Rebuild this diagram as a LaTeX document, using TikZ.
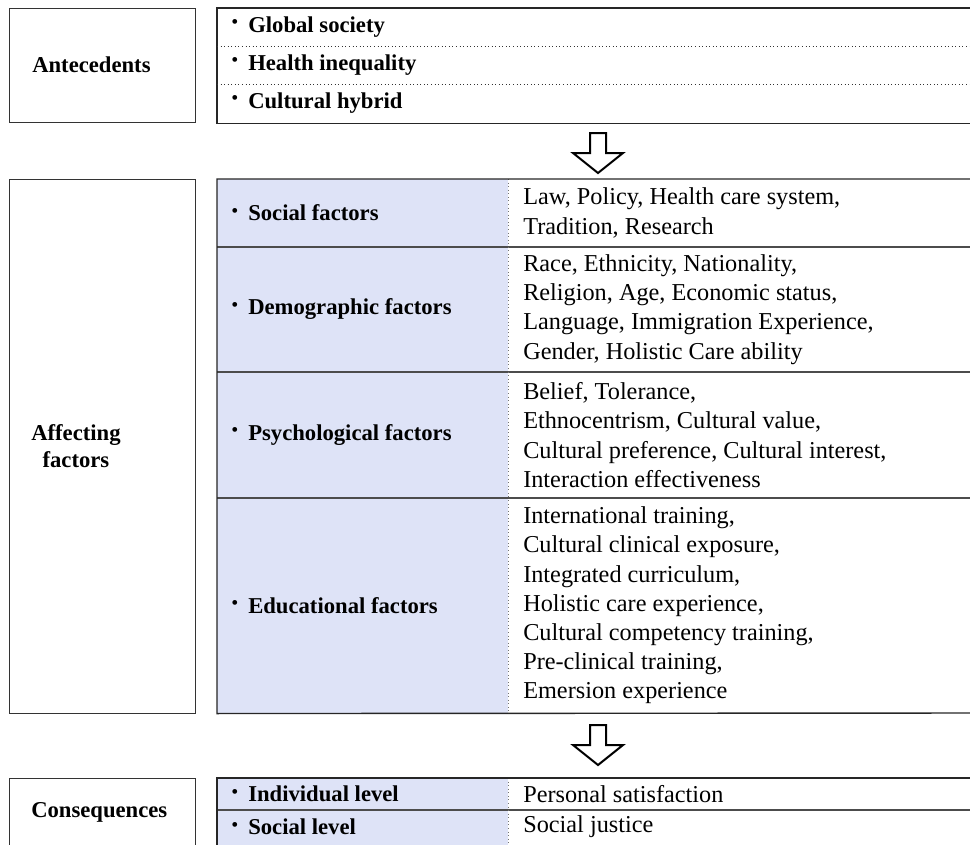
\documentclass[tikz,border=0pt]{standalone}
\usepackage{fontspec}
\setmainfont{Liberation Serif}
\usetikzlibrary{calc}
\newlength\pu \setlength\pu{0.75pt}
\definecolor{cellblue}{RGB}{222,227,247}
\newcommand\bul{\rlap{\hspace{-17\pu}{\normalfont\fontsize{15}{15}\selectfont\raisebox{0.4ex}{\textbullet}}}}
\begin{document}
\begin{tikzpicture}[x=0.75pt,y=-0.75pt,
  frame/.style={draw=black!80, line width=1.3\pu, fill=white, anchor=north west, inner sep=0pt},
  cell/.style={fill=cellblue, draw=none, anchor=north west, inner sep=0pt, minimum width=291\pu},
  lab/.style={font=\fontsize{17}{20}\selectfont\bfseries, align=center, anchor=west, inner sep=0pt},
  item/.style={font=\fontsize{17}{22}\selectfont\bfseries, anchor=west, inner sep=0pt},
  desc/.style={font=\fontsize{18.2}{21.9}\selectfont, align=left, anchor=west, inner sep=0pt},
  solidrule/.style={draw=black!70, line width=1.3\pu},
  edge/.style={draw=black!85, line width=1.4\pu},
  dotrule/.style={draw=black!80, line width=0.9\pu, dotted},
  vdot/.style={draw=black!55, line width=0.9\pu, dotted},
  blockarrow/.style={draw=black, line width=2\pu, fill=white, line join=miter}
]
\useasboundingbox (0,0) rectangle (970,844);

% ---------- Antecedents ----------
\node[frame, minimum width=186\pu, minimum height=114\pu] (antbox) at (9,8) {};
\node[lab] (antlab) at (32,65) {Antecedents};
\node[frame, draw=none, minimum width=760\pu, minimum height=114\pu] (anttab) at (217,8) {};
\draw[edge] (anttab.north east) -- (anttab.north west) -- (anttab.south west) -- (anttab.south east);
\coordinate (a1w) at (217,46); \coordinate (a1e) at (977,46);
\coordinate (a2w) at (217,84); \coordinate (a2e) at (977,84);
\draw[dotrule] (a1w) -- (a1e);
\draw[dotrule] (a2w) -- (a2e);
\node[item] (ant1) at (248,27) {\bul Global society};
\node[item] (ant2) at (248,65) {\bul Health inequality};
\node[item] (ant3) at (248,103) {\bul Cultural hybrid};

% ---------- Arrow 1 ----------
\coordinate (ar1) at (598,133);
\draw[blockarrow] (ar1) ++(-8,0) -- ++(16,0) -- ++(0,20) -- ++(17,0) -- ++(-25,20) -- ++(-25,-20) -- ++(17,0) -- cycle;

% ---------- Affecting factors ----------
\node[frame, minimum width=186\pu, minimum height=534\pu] (affbox) at (9,179) {};
\node[lab] (afflab) at (31,446) {Affecting\\factors};

\node[cell, minimum height=68\pu]  (c1) at (217,179) {};
\node[cell, minimum height=125\pu] (c2) at (217,247) {};
\node[cell, minimum height=126\pu] (c3) at (217,372) {};
\node[cell, minimum height=215\pu] (c4) at (217,498) {};

\coordinate (r1w) at (217,247); \coordinate (r1e) at (977,247);
\coordinate (r2w) at (217,372); \coordinate (r2e) at (977,372);
\coordinate (r3w) at (217,498); \coordinate (r3e) at (977,498);
\draw[solidrule] (r1w) -- (r1e);
\draw[solidrule] (r2w) -- (r2e);
\draw[solidrule] (r3w) -- (r3e);
\draw[vdot] (c1.north east) -- (c4.south east);
\coordinate (ttopE) at (977,179); \coordinate (tbotE) at (977,713);
\draw[edge] (ttopE) -- (c1.north west) -- (c4.south west) -- (tbotE);

\node[item] (f1) at (248,213) {\bul Social factors};
\node[item] (f2) at (248,309.5) {\bul Demographic factors};
\node[item] (f3) at (248,435) {\bul Psychological factors};
\node[item] (f4) at (248,605.5) {\bul Educational factors};

\node[desc] (d1) at (523,213) {Law, Policy, Health care system,\\Tradition, Research};
\node[desc] (d2) at (523,309.5) {Race, Ethnicity, Nationality,\\Religion, Age, Economic status,\\Language, Immigration Experience,\\Gender, Holistic Care ability};
\node[desc] (d3) at (523,435) {Belief, Tolerance,\\Ethnocentrism, Cultural value,\\Cultural preference, Cultural interest,\\Interaction effectiveness};
\node[desc] (d4) at (523,605.5) {International training,\\Cultural clinical exposure,\\Integrated curriculum,\\Holistic care experience,\\Cultural competency training,\\Pre-clinical training,\\Emersion experience};

% ---------- Arrow 2 ----------
\coordinate (ar2) at (598,725);
\draw[blockarrow] (ar2) ++(-8,0) -- ++(16,0) -- ++(0,20) -- ++(17,0) -- ++(-25,20) -- ++(-25,-20) -- ++(17,0) -- cycle;

% ---------- Consequences ----------
\node[frame, minimum width=186\pu, minimum height=72\pu] (conbox) at (9,778) {};
\node[lab] (conlab) at (31,812) {Consequences};
\node[cell, minimum height=32\pu] (k1) at (217,778) {};
\node[cell, minimum height=40\pu] (k2) at (217,810) {};
\coordinate (k1e) at (977,810);
\draw[solidrule] (k2.north west) -- (k1e);
\draw[vdot] (k1.north east) -- (k2.south east);
\coordinate (ktopE) at (977,778);
\draw[edge] (ktopE) -- (k1.north west) -- (k2.south west);
\node[item] (l1) at (248,794) {\bul Individual level};
\node[item] (l2) at (248,827) {\bul Social level};
\node[desc] (m1) at (523,794) {Personal satisfaction};
\node[desc] (m2) at (523,827) {Social justice};
\end{tikzpicture}
\end{document}
